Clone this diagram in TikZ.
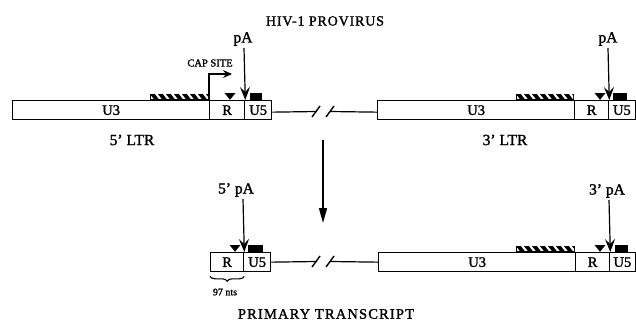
\documentclass[tikz,border=0pt]{standalone}
\usepackage{fontspec}
\setmainfont{Liberation Serif}[FakeBold=1.5]
\usetikzlibrary{arrows.meta,decorations.pathreplacing}
\newcommand\hatchbar[3]{% x1, x2, ytop
  \fill (#1,#3) rectangle (#2,#3+6.5);
  \begin{scope}
    \clip (#1+1,#3+1.2) rectangle (#2-1,#3+5.3);
    \foreach \s in {-10,-2,...,70} {\draw[white,line width=2.2pt] (#1+\s,#3) -- (#1+\s+5,#3+6.5);}
  \end{scope}}
\newcommand\tri[2]{\fill (#1-5.5,#2) -- (#1+5.5,#2) -- (#1,#2+6.8) -- cycle;}
\begin{document}
\begin{tikzpicture}[x=1pt,y=-1pt,
  seg/.style={draw, line width=1.3pt, inner sep=0pt, minimum height=19pt, anchor=north west, font=\fontsize{14.5}{14.5}\selectfont},
  lbl/.style={inner sep=0pt, font=\fontsize{15.5}{15.5}\selectfont},
  paarrow/.style={line width=1.2pt, -{Stealth[length=13pt,width=10pt,inset=5pt]}},
  conn/.style={line width=1.2pt},
  slash/.style={line width=1.4pt}]
\useasboundingbox (0,0) rectangle (636,321);

% titles
\node[inner sep=0pt, font=\fontsize{14}{14}\selectfont\addfontfeature{LetterSpace=6}] (title) at (325,21) {HIV-1 PROVIRUS};
\node[inner sep=0pt, font=\fontsize{14.5}{14.5}\selectfont\addfontfeature{LetterSpace=8}] (ptitle) at (326,314) {PRIMARY TRANSCRIPT};

% ---------- top row ----------
\node[seg, minimum width=197pt] (U3a) at (12,100) {U3};
\node[seg, minimum width=35pt] (Ra) at (209,100) {R};
\node[seg, minimum width=27pt] (U5a) at (244,100) {U5};
\node[seg, minimum width=197pt] (U3b) at (377,100) {U3};
\node[seg, minimum width=34pt] (Rb) at (574,100) {R};
\node[seg, minimum width=26.5pt] (U5b) at (608,100) {U5};

\coordinate (ba1) at (317,111.5);
\coordinate (ba2) at (330,111.5);
\draw[conn] ([yshift=-2pt]U5a.east) -- (ba1);
\draw[conn] (ba2) -- ([yshift=-2pt]U3b.west);
\draw[slash] (312,117) -- (320,106);
\draw[slash] (326,117) -- (334,106);

\hatchbar{150}{209}{93.5}
\hatchbar{516}{574}{93.5}
\tri{230}{93}
\tri{600}{93}
\fill (250,93) rectangle (262,100);
\fill (613,93) rectangle (627,100);

\node[lbl] (pa1) at (243,39) {pA};
\node[lbl] (pa2) at (608,39) {pA};
\draw[paarrow] (244,48) -- (Ra.north east);
\draw[paarrow] (608,48) -- (Rb.north east);

\coordinate (capend) at (232,74);
\draw[line width=1.2pt, -{Stealth[length=9pt,width=8pt,inset=3pt]}] (Ra.north west) |- (capend);
\node[inner sep=0pt, font=\fontsize{10.5}{10.5}\selectfont] (cap) at (210,63) {CAP SITE};

\node[lbl] (ltr5) at (132,140) {5' LTR};
\node[lbl] (ltr3) at (505,140) {3' LTR};

% big arrow
\coordinate (bigA) at (323,140);
\coordinate (bigB) at (323,223);
\draw[line width=1.4pt, -{Triangle[length=15pt,width=8pt]}] (bigA) -- (bigB);

% ---------- bottom row ----------
\node[seg, minimum width=33pt] (Rc) at (210,252) {R};
\node[seg, minimum width=27pt] (U5c) at (243,252) {U5};
\node[seg, minimum width=197pt] (U3d) at (378,252) {U3};
\node[seg, minimum width=34pt] (Rd) at (575,252) {R};
\node[seg, minimum width=25.5pt] (U5d) at (609,252) {U5};

\coordinate (bc1) at (317,261.5);
\coordinate (bc2) at (330,261.5);
\draw[conn] (U5c.east) -- (bc1);
\draw[conn] (bc2) -- (U3d.west);
\draw[slash] (312,267) -- (320,256);
\draw[slash] (326,267) -- (334,256);

\hatchbar{516}{575}{245.5}
\tri{235}{245}
\tri{600}{245}
\fill (248,245) rectangle (263,252);
\fill (615,245) rectangle (628,252);

\node[lbl] (pa5) at (236,190) {5' pA};
\node[lbl] (pa3) at (607,191) {3' pA};
\draw[paarrow] (243,199) -- (Rc.north east);
\draw[paarrow] (609,200) -- (Rd.north east);

\draw[line width=1.1pt, decorate, decoration={brace, mirror, amplitude=5pt}] ([yshift=-4pt]Rc.south west) -- ([yshift=-4pt]Rc.south east);
\node[inner sep=0pt, font=\fontsize{10}{10}\selectfont] (nts) at (225,292) {97 nts};
\end{tikzpicture}
\end{document}
